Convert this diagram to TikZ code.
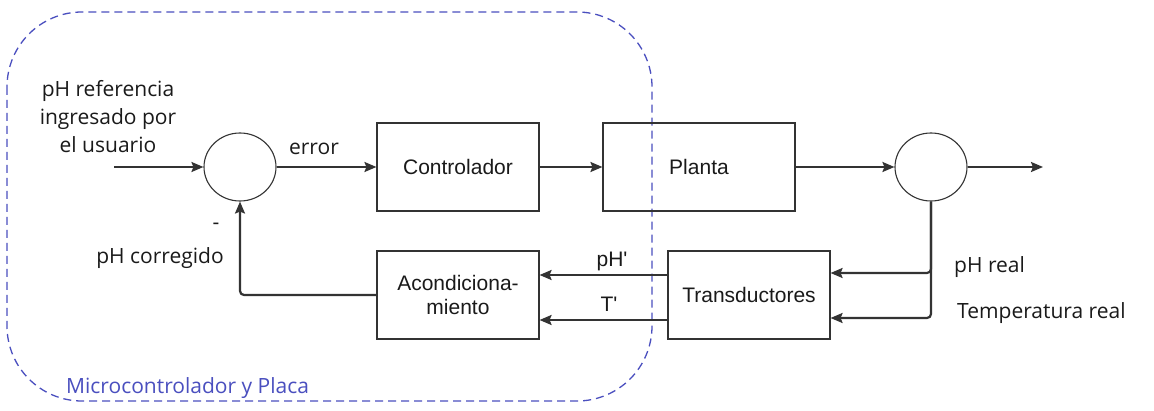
\documentclass[tikz,border=0pt]{standalone}
\usepackage{fontspec}
\setmainfont{Open Sans}
\newfontfamily\arialf{Liberation Sans}
\usetikzlibrary{arrows.meta,shapes.geometric}
\definecolor{ln}{HTML}{333333}
\definecolor{txt}{HTML}{1A1A1A}
\definecolor{grp}{HTML}{4A4FBF}
\begin{document}
\begin{tikzpicture}[x=1pt,y=-1pt,
  blk/.style={draw=ln, line width=1.1pt, minimum width=162pt, minimum height=88pt,
    font=\arialf\fontsize{21}{24}\selectfont, text=txt, align=center, inner sep=0pt},
  sumj/.style={draw=ln, line width=1.1pt, ellipse, minimum width=72pt, minimum height=68pt, inner sep=0pt},
  arr/.style={draw=ln, line width=2.2pt, -{Stealth[length=12pt,width=10pt,inset=2pt]}},
  lbl/.style={font=\fontsize{21}{28}\selectfont, text=txt, inner sep=0pt},
  albl/.style={font=\arialf\fontsize{21}{24}\selectfont, text=txt, inner sep=0pt}
]
\useasboundingbox (0,0) rectangle (1154,411);
\fill[white] (0,0) rectangle (1154,411);

% group
\draw[grp, dash pattern=on 8pt off 5pt, line width=1.3pt, rounded corners=75pt]
  (7,12) rectangle (652,401);
\node[font=\fontsize{21}{24}\selectfont, text=grp, inner sep=0pt, anchor=base west] (grpl) at (66,394) {Microcontrolador y Placa};

% blocks
\node[sumj] (s1) at (240,167) {};
\node[blk] (ctrl) at (458,167) {Controlador};
\node[blk, minimum width=192pt] (plant) at (699,167) {Planta};
\node[sumj] (s2) at (931,167) {};
\node[blk] (acond) at (458,295) {Acondiciona-\\miento};
\node[blk] (trans) at (749,295) {Transductores};

\coordinate (in) at (114,167);
\coordinate (out) at (1043,167);

% forward path
\draw[arr] (in) -- (s1.west);
\draw[arr] (s1.east) -- (ctrl.west);
\draw[arr] (ctrl.east) -- (plant.west);
\draw[arr] (plant.east) -- (s2.west);
\draw[arr] (s2.east) -- (out);

% feedback
\draw[arr, rounded corners=4pt] (acond.west) -| (s1.south);
\draw[arr] ([yshift=20pt]trans.west) -- ([yshift=20pt]acond.east);
\draw[arr] ([yshift=-25pt]trans.west) -- ([yshift=-25pt]acond.east);
\draw[arr, rounded corners=4pt] (s2.south) |- ([yshift=22pt]trans.east);
\draw[arr, rounded corners=4pt] (s2.south) |- ([yshift=-23pt]trans.east);

% labels
\node[lbl, anchor=base] (ref1) at (108,97) {pH referencia};
\node[lbl, anchor=base] (ref2) at (108,125) {ingresado por};
\node[lbl, anchor=base] (ref3) at (108,153) {el usuario};
\node[lbl, anchor=base] (err) at (314,155) {error};
\node[lbl, anchor=base] (minus) at (216,230) {-};
\node[lbl, anchor=base] (phc) at (160,264) {pH corregido};
\node[albl, anchor=base] (php) at (612,267) {pH'};
\node[albl, anchor=base] (tp) at (609,312) {T'};
\node[lbl, anchor=base west] (phr) at (954,273) {pH real};
\node[lbl, anchor=base west] (tr) at (957,319) {Temperatura real};
\end{tikzpicture}
\end{document}
